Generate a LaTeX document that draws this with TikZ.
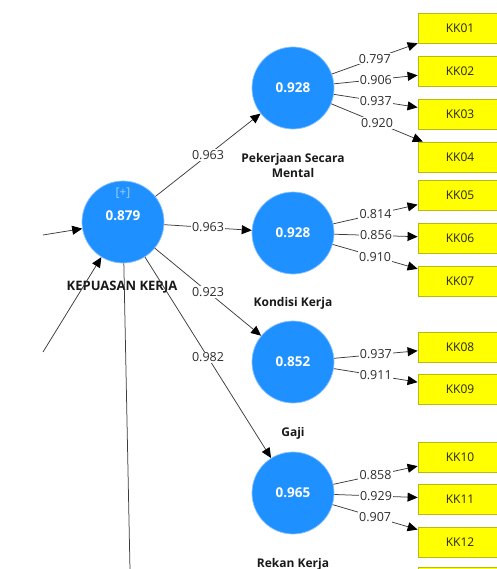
\documentclass[tikz,border=0pt]{standalone}
\usepackage{fontspec}
\setmainfont{Open Sans}
\usetikzlibrary{arrows.meta}
\definecolor{lvblue}{RGB}{30,144,255}
\definecolor{lvedge}{RGB}{140,195,255}
\definecolor{indyellow}{RGB}{255,255,0}
\definecolor{indedge}{RGB}{185,185,20}
\definecolor{linkgray}{RGB}{60,60,60}
\definecolor{loadgray}{RGB}{45,45,45}
\tikzset{
  latent/.style={circle, fill=lvblue, draw=lvedge, line width=0.7pt,
    minimum size=82pt, inner sep=0pt, text=white,
    font=\fontsize{13.5}{16}\selectfont\bfseries},
  indicator/.style={rectangle, fill=indyellow, draw=indedge, line width=0.8pt,
    minimum width=84pt, minimum height=30pt, inner sep=0pt,
    font=\fontsize{12}{14}\selectfont, text=black!85},
  lvname/.style={font=\fontsize{12}{15}\selectfont\bfseries, align=center, text=black!90},
  link/.style={draw=linkgray, line width=0.75pt},
  arrowlink/.style={link, -{Triangle[length=10pt,width=9pt,color=black]}},
  coef/.style={fill=white, inner sep=1.2pt, text=loadgray,
    font=\fontsize{12.5}{14}\selectfont},
}
\begin{document}
\begin{tikzpicture}[x=1pt,y=-1pt]
\useasboundingbox (0,0) rectangle (496,569);

% latent variables
\node[latent] (kk) at (123,222) {};
\node[text=lvedge!80!white, font=\fontsize{12}{14}\selectfont] (kkplus) at (123,193) {[+]};
\node[text=white, font=\fontsize{13.5}{16}\selectfont\bfseries] (kkval) at (123,216) {0.879};
\node[lvname, font=\fontsize{13}{15}\selectfont\bfseries] (kkname) at (122,287) {KEPUASAN KERJA};

\node[latent] (pm) at (293,88) {0.928};
\node[lvname] (pmname) at (293,166) {Pekerjaan Secara\\Mental};
\node[latent] (kd) at (293,233) {0.928};
\node[lvname] (kdname) at (293,303) {Kondisi Kerja};
\node[latent] (gj) at (293,362) {0.852};
\node[lvname] (gjname) at (293,433) {Gaji};
\node[latent] (rk) at (293,493) {0.965};
\node[lvname] (rkname) at (293,564) {Rekan Kerja};

% indicators
\foreach \name/\y in {KK01/28, KK02/71, KK03/114, KK04/157, KK05/195, KK06/238,
                      KK07/281, KK08/347, KK09/389, KK10/457, KK11/499, KK12/542}
  \node[indicator] (\name) at (460,\y) {\name};
\node[indicator] (KKnext) at (460,582) {};

% links entering and leaving the second-order construct
\coordinate (srcA) at (43,235);
\coordinate (srcB) at (43,352);
\coordinate (sinkC) at (131,620);
\draw[arrowlink] (srcA) -- (kk);
\draw[arrowlink] (srcB) -- (kk);
\draw[link] (kk) -- (sinkC);

% second-order paths
\draw[arrowlink] (kk) -- node[coef] {0.963} (pm);
\draw[arrowlink] (kk) -- node[coef] {0.963} (kd);
\draw[arrowlink] (kk) -- node[coef] {0.923} (gj);
\draw[arrowlink] (kk) -- node[coef] {0.982} (rk);

% outer loadings
\foreach \lv/\ind/\val in {pm/KK01/0.797, pm/KK02/0.906, pm/KK03/0.937, pm/KK04/0.920,
                           kd/KK05/0.814, kd/KK06/0.856, kd/KK07/0.910,
                           gj/KK08/0.937, gj/KK09/0.911,
                           rk/KK10/0.858, rk/KK11/0.929, rk/KK12/0.907}
  \draw[arrowlink] (\lv) -- node[coef] {\val} (\ind);
\end{tikzpicture}
\end{document}
